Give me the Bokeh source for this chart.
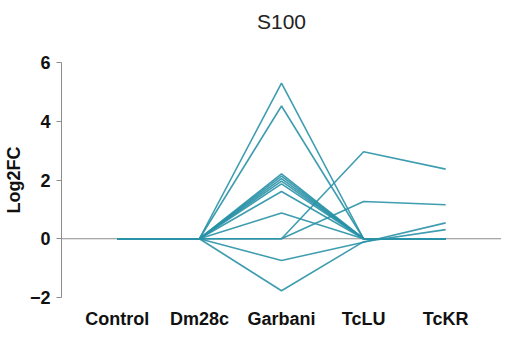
from bokeh.plotting import figure
from bokeh.models import Range1d, FixedTicker, Span
from bokeh.embed import file_html
from bokeh.resources import INLINE

title_text = "S100"
categories = ["Control", "Dm28c", "Garbani", "TcLU", "TcKR"]

s01 = [0, 0, 5.3, 0, 0]
s02 = [0, 0, 4.52, 0, 0]
s03 = [0, 0, 2.21, 0, 0]
s04 = [0, 0, 2.13, 0, 0]
s05 = [0, 0, 2.05, 0, 0]
s06 = [0, 0, 1.96, 0, 0]
s07 = [0, 0, 1.87, 0, 0]
s08 = [0, 0, 1.61, 0, 0]
s09 = [0, 0, 0.88, 0, 0]
s10 = [0, 0, 0, 2.96, 2.37]
s11 = [0, 0, 0, 1.27, 1.16]
s12 = [0, 0, -0.74, -0.12, 0.54]
s13 = [0, 0, -1.77, -0.1, 0.31]
series = [s01, s02, s03, s04, s05, s06, s07, s08, s09, s10, s11, s12, s13]

y_ticks = [-2, 0, 2, 4, 6]

xs = list(range(len(categories)))

p = figure(width=501, height=335, output_backend="svg", toolbar_location=None,
           x_range=Range1d(-0.68, len(categories) - 1 + 0.68),
           y_range=Range1d(-2, 6),
           min_border_left=53, min_border_right=0, min_border_top=62, min_border_bottom=38,
           title=title_text + "\n")

p.title.align = "center"
p.title.vertical_align = "bottom"
p.title.text_font = "Liberation Sans"
p.title.text_font_size = "21px"
p.title.text_font_style = "normal"
p.title.text_color = "#222222"
p.title.standoff = 13

p.outline_line_color = None
p.xgrid.visible = False
p.ygrid.visible = False

zero = Span(location=0, dimension="width", line_color="#8c8c8c", line_width=1.2)
zero.level = "underlay"
p.add_layout(zero)

for s in series:
    p.line(xs, s, line_color="#2a92a7", line_width=1.6, line_alpha=0.9)

p.xaxis.ticker = FixedTicker(ticks=xs)
p.xaxis.major_label_overrides = {i: c for i, c in enumerate(categories)}
p.xaxis.axis_line_color = None
p.xaxis.major_tick_line_color = None
p.xaxis.major_tick_out = 0
p.xaxis.major_tick_in = 0
p.xaxis.minor_tick_line_color = None
p.xaxis.major_label_text_font = "Liberation Sans"
p.xaxis.major_label_text_font_style = "bold"
p.xaxis.major_label_text_font_size = "18px"
p.xaxis.major_label_text_color = "#111111"
p.xaxis.major_label_standoff = 11

p.yaxis.ticker = FixedTicker(ticks=y_ticks)
p.yaxis.axis_line_color = "#8c8c8c"
p.yaxis.major_tick_line_color = "#8c8c8c"
p.yaxis.major_tick_out = 5
p.yaxis.major_tick_in = 0
p.yaxis.minor_tick_line_color = None
p.yaxis.major_label_text_font = "Liberation Sans"
p.yaxis.major_label_text_font_style = "bold"
p.yaxis.major_label_text_font_size = "18px"
p.yaxis.major_label_text_color = "#111111"
p.yaxis.major_label_standoff = 6
p.yaxis.axis_label = "Log2FC"
p.yaxis.axis_label_text_font = "Liberation Sans"
p.yaxis.axis_label_text_font_style = "bold"
p.yaxis.axis_label_text_font_size = "18px"
p.yaxis.axis_label_text_color = "#111111"
p.yaxis.axis_label_standoff = 3

open("out.html", "w").write(file_html(p, INLINE))
